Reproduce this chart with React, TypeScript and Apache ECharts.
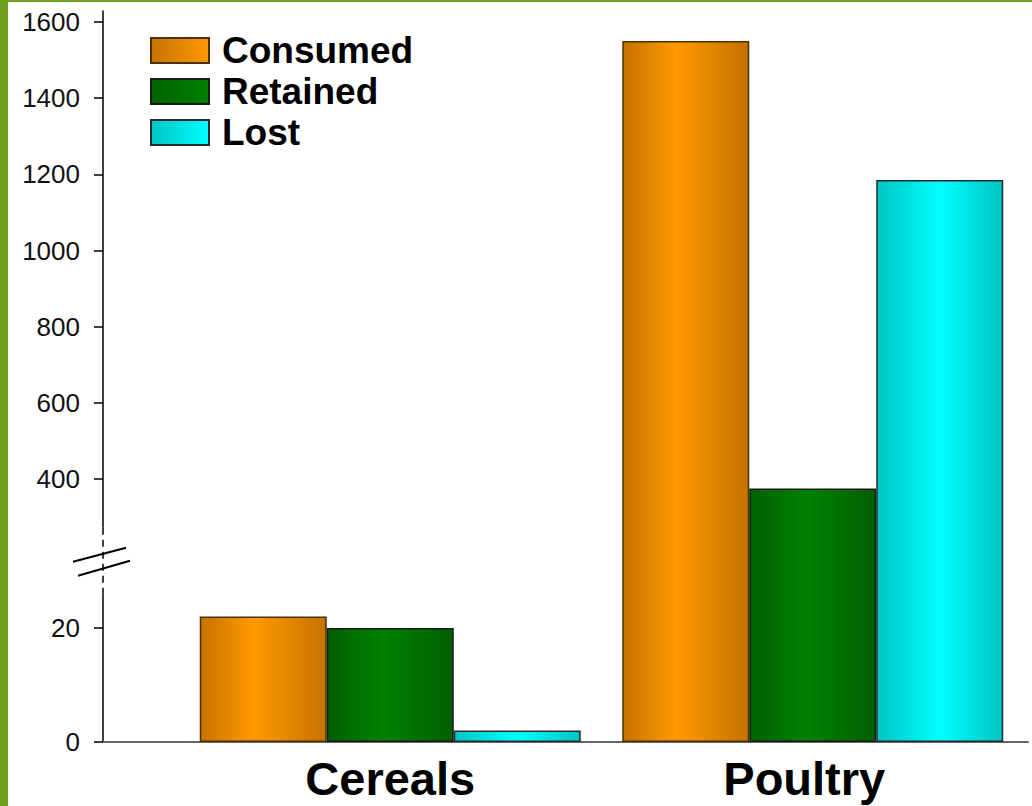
import React, { useEffect, useRef } from "react";
import * as echarts from "echarts";

// ---- data ----
const categories = ["Cereals", "Poultry"];
const consumed = [22, 1550];
const retained = [20, 375];
const lost = [2, 1185];
const yTicks = [0, 20, 400, 600, 800, 1000, 1200, 1400, 1600];

// broken-axis definition (real values)
const LOWER_MAX = 26; // top of the lower segment
const UPPER_MIN = 272; // bottom of the upper segment

// piecewise scale: real value -> display units
const LOWER_K = 5.7;
const UPPER_BASE = 263;
const UPPER_REF = 400;
const UPPER_K = 0.38083;
const toDisplay = (v: number) =>
  v <= LOWER_MAX ? v * LOWER_K : UPPER_BASE + (v - UPPER_REF) * UPPER_K;

const FONT = "Liberation Sans, Arial, Helvetica, sans-serif";
const AXIS_LEFT = 103;

const grad = (a: string, b: string, c: string, mid = 0.45) =>
  new echarts.graphic.LinearGradient(0, 0, 1, 0, [
    { offset: 0, color: a },
    { offset: mid, color: b },
    { offset: 1, color: c },
  ]);
const grad2 = (a: string, b: string) =>
  new echarts.graphic.LinearGradient(0, 0, 1, 0, [
    { offset: 0, color: a },
    { offset: 1, color: b },
  ]);

export default function App() {
  const ref = useRef<HTMLDivElement>(null);
  useEffect(() => {
    document.body.style.margin = "0";
    const chart = echarts.init(ref.current!, null, { renderer: "svg" });
    const tickDisp = yTicks.map(toDisplay);
    const mkSeries = (
      name: string,
      data: number[],
      color: any,
      border: string
    ) => ({
      name,
      type: "bar",
      data: data.map(toDisplay),
      barWidth: 127,
      barGap: "0%",
      xAxisIndex: 0,
      yAxisIndex: 0,
      itemStyle: { color, borderColor: border, borderWidth: 1.5 },
    });
    const catFont = {
      fontFamily: FONT,
      fontSize: 47,
      fontWeight: "bold",
      color: "#000",
    };
    chart.setOption({
      animation: false,
      backgroundColor: "#ffffff",
      grid: [
        { left: 179, right: 8, top: 11, bottom: 64 },
        { left: AXIS_LEFT, right: 4, top: 11, bottom: 64 },
      ],
      legend: {
        orient: "vertical",
        left: 145,
        top: 27,
        itemWidth: 58,
        itemHeight: 25,
        itemGap: 4,
        icon: "rect",
        textStyle: {
          fontFamily: FONT,
          fontSize: 37,
          fontWeight: "bold",
          color: "#000",
          padding: [0, 0, 0, 8],
        },
        data: [
          { name: "Consumed", itemStyle: { color: grad2("#C67200", "#FF9900") } },
          { name: "Retained", itemStyle: { color: grad2("#006200", "#008000") } },
          { name: "Lost", itemStyle: { color: grad2("#00C4C4", "#00FFFF") } },
        ],
      },
      xAxis: [
        {
          type: "category",
          gridIndex: 0,
          data: categories,
          axisLine: { show: false },
          axisTick: { show: false },
          axisLabel: {
            ...catFont,
            margin: 13,
            formatter: (v: string, i: number) => (i === 1 ? `{p|${v}}` : `{c|${v}}`),
            rich: {
              c: { ...catFont },
              p: { ...catFont, padding: [0, 17, 0, 0] },
            },
          },
        },
        {
          type: "category",
          gridIndex: 1,
          data: [""],
          axisLine: { lineStyle: { color: "#666", width: 2 } },
          axisTick: { show: false },
          axisLabel: { show: false },
        },
      ],
      yAxis: [
        {
          type: "value",
          gridIndex: 0,
          min: 0,
          max: 731,
          offset: 179 - AXIS_LEFT,
          splitLine: { show: false },
          axisLine: { show: true, lineStyle: { color: "#000", width: 1.5 } },
          axisTick: {
            show: true,
            length: 9,
            customValues: tickDisp,
            lineStyle: { color: "#000", width: 1.5 },
          },
          axisLabel: {
            customValues: tickDisp,
            fontFamily: FONT,
            fontSize: 26,
            color: "#111",
            margin: 23,
            formatter: (val: number) => {
              const i = tickDisp.findIndex((d) => Math.abs(d - val) < 0.5);
              return i >= 0 ? String(yTicks[i]) : "";
            },
          },
        },
        { type: "value", gridIndex: 1, min: 0, max: 731, show: false },
      ],
      series: [
        mkSeries("Consumed", consumed, grad("#C67200", "#FF9900", "#C67200", 0.42), "#4a3208"),
        mkSeries("Retained", retained, grad("#006000", "#008000", "#005E00"), "#1a1a1a"),
        mkSeries("Lost", lost, grad("#00C4C4", "#00FFFF", "#00C4C4", 0.5), "#2a2a2a"),
      ],
    });

    // axis break decoration
    const axisX = AXIS_LEFT;
    const yLo = chart.convertToPixel({ yAxisIndex: 0 }, toDisplay(LOWER_MAX)) as number;
    const yHi = chart.convertToPixel({ yAxisIndex: 0 }, toDisplay(UPPER_MIN)) as number;
    const yMid = (yLo + yHi) / 2;
    chart.setOption({
      graphic: [
        { type: "rect", z: 100, shape: { x: axisX - 3, y: yHi, width: 6, height: yLo - yHi }, style: { fill: "#fff" } },
        {
          type: "line",
          z: 101,
          shape: { x1: axisX, y1: yHi, x2: axisX, y2: yLo },
          style: { stroke: "#000", lineWidth: 1.5, lineDash: [7, 5] },
        },
        {
          type: "line",
          z: 101,
          shape: { x1: axisX - 30, y1: yMid + 1, x2: axisX + 23, y2: yMid - 13 },
          style: { stroke: "#000", lineWidth: 2 },
        },
        {
          type: "line",
          z: 101,
          shape: { x1: axisX - 25, y1: yMid + 15, x2: axisX + 27, y2: yMid },
          style: { stroke: "#000", lineWidth: 2 },
        },
        // green frame
        { type: "rect", z: 102, shape: { x: 0, y: 0, width: 8, height: 806 }, style: { fill: "#6FA01F" } },
        { type: "rect", z: 102, shape: { x: 0, y: 0, width: 1032, height: 2 }, style: { fill: "#6FA01F" } },
      ],
    });
    return () => chart.dispose();
  }, []);
  return <div ref={ref} style={{ width: 1032, height: 806 }} />;
}
